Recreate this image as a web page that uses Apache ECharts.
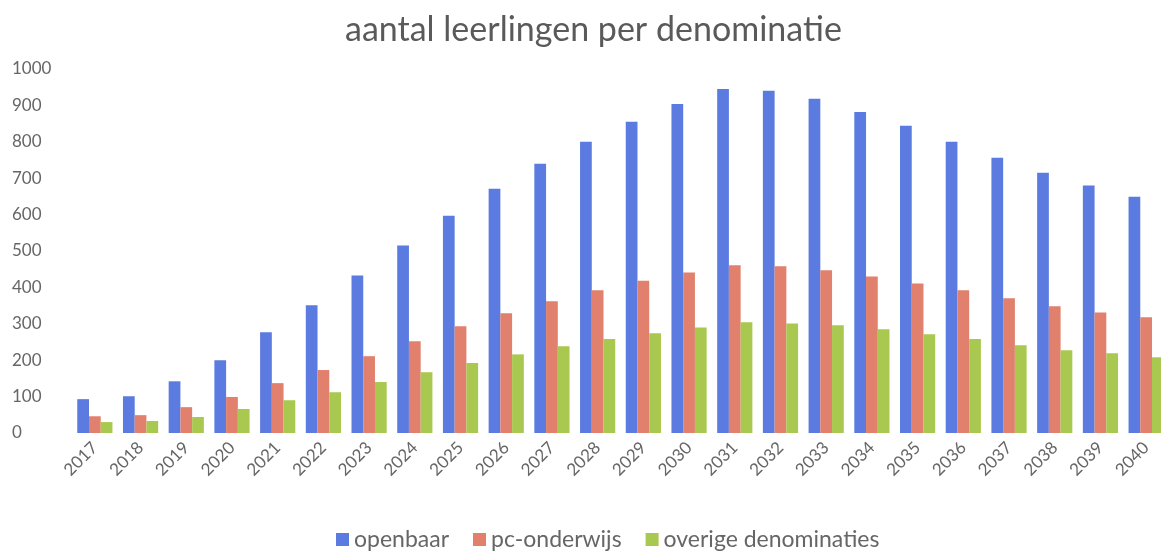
<!DOCTYPE html>
<html>
<head>
<meta charset="utf-8">
<script src="https://cdn.jsdelivr.net/npm/echarts@6/dist/echarts.min.js"></script>
<style>
  html, body { margin: 0; padding: 0; background: #fff; }
  #chart { width: 1161px; height: 560px; }
</style>
</head>
<body>
<div id="chart"></div>
<script>
// leerlingen per denominatie, 2017-2040
var years = ['2017', '2018', '2019', '2020', '2021', '2022', '2023', '2024', '2025', '2026', '2027', '2028',
             '2029', '2030', '2031', '2032', '2033', '2034', '2035', '2036', '2037', '2038', '2039', '2040'];
var openbaar = [93, 101, 142, 200, 277, 351, 433, 515, 597, 671, 740, 800,
                855, 904, 945, 940, 918, 882, 844, 800, 756, 715, 680, 649];
var pcOnderwijs = [46, 49, 71, 99, 137, 173, 211, 252, 293, 329, 362, 392,
                   418, 441, 461, 458, 447, 430, 411, 392, 370, 348, 331, 318];
var overige = [30, 33, 44, 66, 90, 112, 140, 167, 192, 216, 238, 258,
               274, 290, 304, 301, 296, 285, 271, 258, 241, 227, 219, 208];
var yTicks = [0, 1000, 100];  // min, max, interval

var font = 'Lato, "Open Sans", sans-serif';
var myChart = echarts.init(document.getElementById('chart'));

function bar(name, data, color) {
    return {
        name: name,
        type: 'bar',
        data: data,
        barGap: '0%',
        barCategoryGap: '23%',
        itemStyle: { color: color },
        emphasis: { disabled: true }
    };
}

var option = {
    animation: false,
    title: {
        text: 'aantal leerlingen per denominatie',
        left: 340,
        top: 8,
        textStyle: { fontFamily: font, fontSize: 34, fontWeight: 'normal', color: '#5a5a5a' }
    },
    legend: {
        bottom: 4,
        left: 331,
        itemWidth: 13,
        itemHeight: 13,
        itemGap: 24,
        icon: 'rect',
        textStyle: { fontFamily: font, fontSize: 23, color: '#666' }
    },
    grid: { left: 72, right: -8, top: 69, bottom: 127, containLabel: false, outerBoundsMode: 'none' },
    xAxis: {
        type: 'category',
        data: years,
        axisLine: { show: false },
        axisTick: { show: false },
        axisLabel: { rotate: 45, fontFamily: font, fontSize: 17, color: '#666', margin: 12 }
    },
    yAxis: {
        type: 'value',
        min: yTicks[0],
        max: yTicks[1],
        interval: yTicks[2],
        splitLine: { show: false },
        axisLine: { show: false },
        axisTick: { show: false },
        axisLabel: {
            fontFamily: font, fontSize: 17, color: '#666', margin: 60, align: 'left',
            formatter: function (v) { return String(v); }
        }
    },
    series: [
        bar('openbaar', openbaar, '#5b7be0'),
        bar('pc-onderwijs', pcOnderwijs, '#e0806d'),
        bar('overige denominaties', overige, '#a9c84f')
    ]
};

myChart.setOption(option);
</script>
</body>
</html>
